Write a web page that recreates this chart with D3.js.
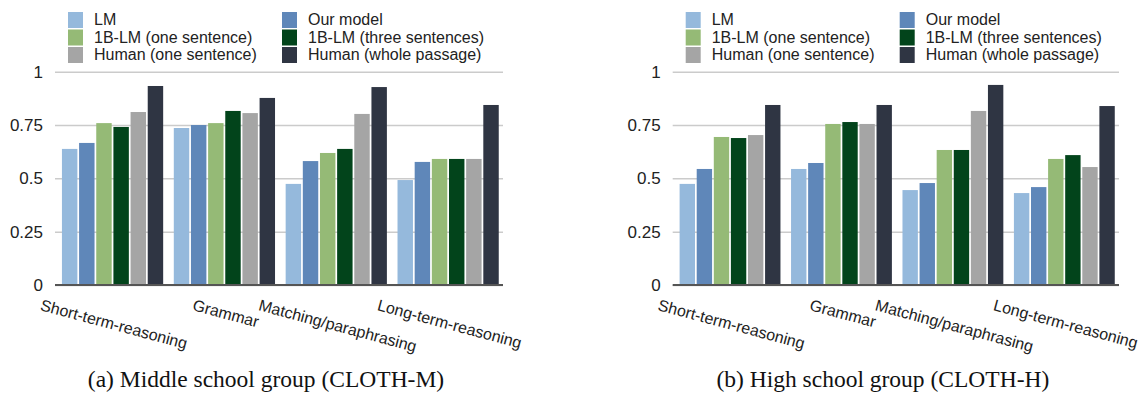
<!DOCTYPE html>
<html>
<head>
<meta charset="utf-8">
<script src="https://cdn.jsdelivr.net/npm/d3@7"></script>
<style>
  body { margin: 0; background: #fff; }
  text { font-family: "Liberation Sans", Arial, sans-serif; fill: #222; }
  .caption { font-family: "Liberation Serif", "Times New Roman", serif; fill: #111; }
</style>
</head>
<body>
<script>
// categories and series
var categories = ["Short-term-reasoning", "Grammar", "Matching/paraphrasing", "Long-term-reasoning"];
var seriesNames = ["LM", "Our model", "1B-LM (one sentence)", "1B-LM (three sentences)",
                   "Human (one sentence)", "Human (whole passage)"];
var yTicks = [0, 0.25, 0.5, 0.75, 1];
var yTickLabels = ["0", "0.25", "0.5", "0.75", "1"];

// (a) CLOTH-M values, one array per series
var midLM       = [0.638, 0.736, 0.474, 0.492];
var midOurs     = [0.666, 0.750, 0.581, 0.577];
var midOneSent  = [0.759, 0.759, 0.619, 0.591];
var midThree    = [0.741, 0.816, 0.638, 0.591];
var midHumanOne = [0.811, 0.806, 0.802, 0.591];
var midHumanAll = [0.933, 0.877, 0.928, 0.844];

// (b) CLOTH-H values
var highLM       = [0.474, 0.544, 0.445, 0.431];
var highOurs     = [0.544, 0.572, 0.478, 0.459];
var highOneSent  = [0.694, 0.755, 0.633, 0.591];
var highThree    = [0.689, 0.764, 0.633, 0.609];
var highHumanOne = [0.703, 0.755, 0.816, 0.553];
var highHumanAll = [0.844, 0.844, 0.938, 0.839];

var colors = ["#95b9dc", "#5f87b9", "#95ba76", "#02441b", "#a5a5a5", "#2f3543"];

var W = 1142, H = 394;
var svg = d3.select("body").append("svg").attr("width", W).attr("height", H);

var panels = [
  {x0: 55, x1: 503, caption: "(a) Middle school group (CLOTH-M)",
   series: [midLM, midOurs, midOneSent, midThree, midHumanOne, midHumanAll]},
  {x0: 672.7, x1: 1119, caption: "(b) High school group (CLOTH-H)",
   series: [highLM, highOurs, highOneSent, highThree, highHumanOne, highHumanAll]}
];

var y = d3.scaleLinear().domain([0, 1]).range([285, 71.7]);
var angle = 15;

function drawPanel(p) {
  var g = svg.append("g");
  var x = d3.scaleBand().domain(categories).range([p.x0, p.x1])
      .paddingInner(0.095).paddingOuter(0.05).align(0.62);
  var xs = d3.scaleBand().domain(seriesNames).range([0, x.bandwidth()]).paddingInner(0.1);

  // grid + tick labels
  var axis = d3.axisLeft(y).tickValues(yTicks)
      .tickFormat(function(d, i){ return yTickLabels[i]; })
      .tickSize(-(p.x1 - p.x0)).tickPadding(12);
  var ax = g.append("g").attr("transform", "translate(" + p.x0 + ",0)").call(axis);
  ax.select(".domain").remove();
  ax.selectAll(".tick line").attr("stroke", "#cbcbcb").attr("stroke-width", 1.5);
  ax.selectAll(".tick text").attr("font-size", 17).attr("fill", "#222")
      .attr("font-family", "Liberation Sans, Arial, sans-serif");

  // bars
  var rows = [];
  categories.forEach(function(c, ci){
    seriesNames.forEach(function(s, si){
      rows.push({cat: c, name: s, si: si, v: p.series[si][ci]});
    });
  });
  g.selectAll("rect.bar").data(rows).enter().append("rect")
      .attr("class", "bar")
      .attr("x", function(d){ return x(d.cat) + xs(d.name); })
      .attr("width", xs.bandwidth())
      .attr("y", function(d){ return y(d.v); })
      .attr("height", function(d){ return y(0) - y(d.v); })
      .attr("fill", function(d){ return colors[d.si]; });

  // baseline
  g.append("line").attr("x1", p.x0).attr("x2", p.x1)
      .attr("y1", y(0)).attr("y2", y(0))
      .attr("stroke", "#555").attr("stroke-width", 2);

  // rotated category labels
  var rad = angle * Math.PI / 180;
  g.selectAll("text.cat").data(categories).enter().append("text")
      .attr("class", "cat")
      .attr("font-size", 16)
      .text(function(d){ return d; })
      .each(function(d){
        var len = this.getComputedTextLength();
        var cx = x(d) + x.bandwidth() / 2;
        var sx = cx - len * Math.cos(rad) / 2;
        var sy = 310;
        d3.select(this).attr("x", sx).attr("y", sy)
          .attr("transform", "rotate(" + angle + "," + sx + "," + sy + ")");
      });

  // legend, 2 columns row-major
  var leg = g.selectAll("g.leg").data(seriesNames).enter().append("g")
      .attr("class", "leg")
      .attr("transform", function(d, i){
        return "translate(" + (p.x0 + 13 + (i % 2) * 214) + "," + (12 + Math.floor(i / 2) * 17.5) + ")";
      });
  leg.append("rect").attr("width", 15).attr("height", 16)
      .attr("fill", function(d, i){ return colors[i]; });
  leg.append("text").attr("x", 26).attr("y", 13).attr("font-size", 16)
      .text(function(d){ return d; });

  // caption
  g.append("text").attr("class", "caption")
      .attr("x", (p.x0 + p.x1) / 2 - 13).attr("y", 387)
      .attr("text-anchor", "middle").attr("font-size", 23.5)
      .text(p.caption);
}

panels.forEach(drawPanel);
</script>
</body>
</html>
